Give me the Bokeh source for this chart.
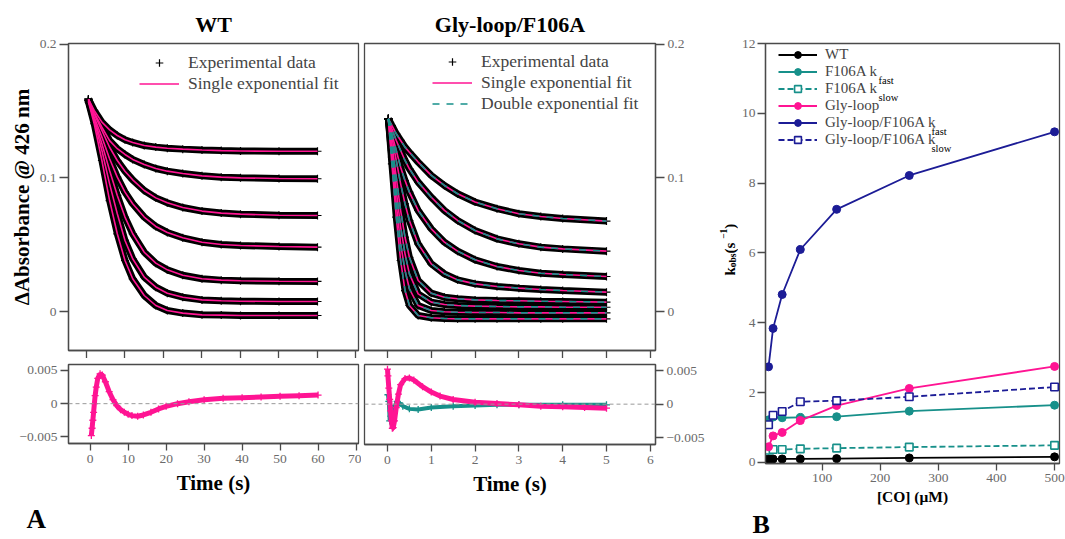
import math
from bokeh.plotting import figure
from bokeh.models import Range1d, FixedTicker, Label, Legend, LegendItem, Span, Title
from bokeh.layouts import row, column
from bokeh.embed import file_html
from bokeh.resources import INLINE

# ---------------- data ----------------
# Panel A, WT traces (time in s, dAbs)
t_wt = [0.5, 2, 4, 6, 8, 10, 12, 15, 18, 21, 25, 30, 35, 40, 50, 60]
wt_1 = [0.159, 0.1506, 0.1418, 0.136, 0.1318, 0.1286, 0.1266, 0.1243, 0.1231, 0.1223, 0.1216, 0.121, 0.1205, 0.1202, 0.120, 0.120]
wt_2 = [0.159, 0.149, 0.138, 0.128, 0.1219, 0.1176, 0.1139, 0.1101, 0.1071, 0.1051, 0.1034, 0.1016, 0.1006, 0.1001, 0.0996, 0.0994]
wt_3 = [0.159, 0.148, 0.1356, 0.123, 0.1131, 0.1051, 0.0986, 0.0906, 0.0851, 0.0814, 0.0779, 0.0752, 0.0737, 0.0729, 0.0721, 0.0719]
wt_4 = [0.158, 0.1456, 0.1306, 0.1144, 0.1006, 0.0894, 0.0807, 0.0707, 0.0637, 0.0592, 0.0552, 0.0519, 0.0502, 0.0494, 0.0487, 0.0482]
wt_5 = [0.158, 0.1443, 0.1256, 0.1056, 0.0869, 0.0707, 0.0582, 0.0444, 0.0362, 0.0312, 0.0272, 0.0245, 0.0235, 0.023, 0.0227, 0.0225]
wt_6 = [0.158, 0.1431, 0.1206, 0.0956, 0.0732, 0.0532, 0.0395, 0.0257, 0.0182, 0.0137, 0.0107, 0.0087, 0.008, 0.0077, 0.0075, 0.0075]
wt_7 = [0.157, 0.1406, 0.1131, 0.0831, 0.0582, 0.0382, 0.0245, 0.012, 0.0045, 0.0007, -0.0012, -0.0025, -0.0027, -0.003, -0.003, -0.003]
wt_traces = [wt_1, wt_2, wt_3, wt_4, wt_5, wt_6, wt_7]

# Panel A, Gly-loop/F106A traces
t_gf = [0.02, 0.1, 0.2, 0.3, 0.4, 0.5, 0.7, 1.0, 1.3, 1.6, 2.0, 2.5, 3.0, 3.5, 4.0, 5.0]
gf_1 = [0.1443, 0.1393, 0.1331, 0.1281, 0.1231, 0.1193, 0.1119, 0.1019, 0.0944, 0.0882, 0.082, 0.077, 0.0732, 0.0712, 0.0697, 0.0677]
gf_2 = [0.1443, 0.1368, 0.1281, 0.1206, 0.1131, 0.1069, 0.0969, 0.0856, 0.0757, 0.0682, 0.0607, 0.0544, 0.0507, 0.0482, 0.0469, 0.0452]
gf_3 = [0.1443, 0.1331, 0.1206, 0.1081, 0.0981, 0.0894, 0.0757, 0.0619, 0.0519, 0.0452, 0.0387, 0.0337, 0.0307, 0.0287, 0.0277, 0.0262]
gf_4 = [0.1443, 0.1306, 0.1131, 0.0956, 0.0806, 0.0681, 0.0506, 0.0357, 0.0282, 0.0237, 0.0207, 0.0187, 0.0175, 0.0165, 0.0157, 0.0145]
gf_5 = [0.1443, 0.1256, 0.1006, 0.0756, 0.0556, 0.0406, 0.0232, 0.0137, 0.0107, 0.0095, 0.0087, 0.0082, 0.008, 0.0077, 0.0075, 0.007]
gf_6 = [0.1443, 0.1206, 0.0906, 0.0632, 0.0432, 0.0282, 0.0132, 0.007, 0.0052, 0.0045, 0.004, 0.0037, 0.0035, 0.0035, 0.0032, 0.0032]
gf_7 = [0.1443, 0.1156, 0.0807, 0.0507, 0.0307, 0.017, 0.0045, 0.0007, -0.0002, -0.0005, -0.0007, -0.0007, -0.001, -0.001, -0.001, -0.001]
gf_8 = [0.1443, 0.1106, 0.0707, 0.0382, 0.0157, 0.0045, -0.003, -0.0047, -0.0052, -0.0055, -0.0055, -0.0055, -0.0055, -0.0055, -0.0055, -0.0055]
gf_traces = [gf_1, gf_2, gf_3, gf_4, gf_5, gf_6, gf_7, gf_8]

# Residuals
t_res_wt = [0.3, 0.5, 0.7, 0.9, 1.1, 1.3, 1.6, 2.0, 2.6, 3.2, 4.0, 5, 6, 7, 8, 9, 10, 11, 12.5, 14, 16, 18, 20, 23, 26, 30, 35, 40, 45, 50, 55, 60]
res_wt = [-0.0048, -0.0037, -0.0025, -0.0013, 0.0, 0.0012, 0.0025, 0.0038, 0.0045, 0.0043, 0.0033, 0.0018, 0.0006, -0.0003, -0.0009, -0.0013, -0.0016, -0.0018, -0.0019, -0.0017, -0.0013, -0.0008, -0.0004, 0.0, 0.0003, 0.0006, 0.0008, 0.0009, 0.001, 0.0011, 0.0012, 0.0013]
t_res_gf_single = [0.0, 0.01, 0.03, 0.05, 0.07, 0.09, 0.11, 0.13, 0.16, 0.2, 0.25, 0.3, 0.4, 0.5, 0.6, 0.8, 1.0, 1.2, 1.5, 2.0, 2.5, 3.0, 3.5, 4.0, 4.5, 5.0]
res_gf_single = [0.0052, 0.0042, 0.0024, 0.0007, -0.001, -0.0025, -0.0036, -0.0035, -0.0025, -0.0005, 0.0015, 0.0029, 0.0038, 0.0039, 0.0036, 0.0026, 0.0018, 0.0012, 0.0007, 0.0003, 0.0001, -0.0001, -0.0003, -0.0004, -0.0005, -0.0006]
t_res_gf_double = [0.01, 0.03, 0.05, 0.08, 0.1, 0.13, 0.17, 0.22, 0.27, 0.35, 0.5, 0.7, 1.0, 1.5, 2.0, 2.5, 3.0, 4.0, 5.0]
res_gf_double = [0.0014, 0.0004, -0.0025, -0.0018, -0.0013, -0.0008, -0.0002, 0.0004, 0.0002, -0.0003, -0.0007, -0.0008, -0.0005, -0.0003, -0.0002, -0.0001, -0.0001, -0.0001, -0.0001]

# Panel B
co = [7.8, 15.6, 31.25, 62.5, 125, 250, 500]
k_wt = [0.1, 0.1, 0.1, 0.1, 0.11, 0.13, 0.16]
k_f106a_fast = [1.22, 1.3, 1.28, 1.29, 1.31, 1.47, 1.64]
k_f106a_slow = [0.35, 0.37, 0.37, 0.39, 0.41, 0.44, 0.49]
k_gly = [0.45, 0.76, 0.86, 1.2, 1.63, 2.12, 2.75]
k_gf_fast = [2.74, 3.84, 4.81, 6.1, 7.25, 8.22, 9.47]
k_gf_slow = [1.08, 1.35, 1.46, 1.74, 1.77, 1.88, 2.16]

# ---------------- style ----------------
SERIF = "Liberation Serif"
AX = "#4a4a4a"
TL = "#6a6a6a"
PINK = "#ff1493"
TEAL = "#17908a"
NAVY = "#1c1c96"


def base_fig(w, h, xr, yr, bl, br, bt, bb, yloc="left"):
    p = figure(width=w, height=h, x_range=Range1d(*xr), y_range=Range1d(*yr),
               output_backend="svg", toolbar_location=None, y_axis_location=yloc,
               min_border_left=bl, min_border_right=br, min_border_top=bt, min_border_bottom=bb)
    p.grid.visible = False
    p.outline_line_color = AX
    p.outline_line_width = 1.3
    return p


def style_axis(ax, ticks, out, standoff, fs="13.5px", overrides=None):
    ax.ticker = FixedTicker(ticks=ticks)
    ax.axis_line_color = AX
    ax.axis_line_width = 1.3
    ax.major_tick_line_color = AX
    ax.major_tick_line_width = 1.3
    ax.major_tick_out = out
    ax.major_tick_in = 0
    ax.minor_tick_line_color = None
    ax.major_label_text_font = SERIF
    ax.major_label_text_font_size = fs
    ax.major_label_text_color = TL
    ax.major_label_standoff = standoff
    if overrides:
        ax.major_label_overrides = overrides


def axis_title(ax, text, size, standoff):
    ax.axis_label = text
    ax.axis_label_text_font = SERIF
    ax.axis_label_text_font_style = "bold"
    ax.axis_label_text_font_size = size
    ax.axis_label_text_color = "black"
    ax.axis_label_standoff = standoff


def text_label(p, x, y, text, size, bold=False, align="left", angle=0.0, color="black"):
    p.add_layout(Label(x=x, y=y, x_units="screen", y_units="screen", text=text,
                       text_font=SERIF, text_font_size=size,
                       text_font_style="bold" if bold else "normal",
                       text_align=align, text_baseline="alphabetic", angle=angle,
                       text_color=color))


def set_title(p, text, size, offset, standoff):
    p.title.text = text
    p.title.align = "center"
    p.title.offset = offset
    p.title.standoff = standoff
    p.title.text_font = SERIF
    p.title.text_font_size = size
    p.title.text_font_style = "bold"
    p.title.text_color = "black"


def panel_letter(p, text, offset, standoff, size):
    p.add_layout(Title(text=text, align="left", offset=offset, standoff=standoff,
                       text_font=SERIF, text_font_size=size, text_font_style="bold",
                       text_color="black"), "below")


y_over_top = {0: "0", 0.1: "0.1", 0.2: "0.2"}
y_over_res = {0.005: "0.005", 0: "0", -0.005: "\u22120.005"}
TOP_YR = (-0.0292, 0.2007)
RES_YR = (-0.0060, 0.0059)
wt_ticks = [0, 10, 20, 30, 40, 50, 60, 70]
gf_ticks = [0, 1, 2, 3, 4, 5, 6]

# ---------------- WT top ----------------
p1 = base_fig(361, 358, (-4.675, 70.65), TOP_YR, 68, 3, 43, 8)
set_title(p1, "WT", "22px", 4, 13)
style_axis(p1.xaxis[0], wt_ticks, 8, 0, fs="1px", overrides={t: "" for t in wt_ticks})
style_axis(p1.yaxis[0], [0, 0.1, 0.2], 9, 3, overrides=y_over_top)
axis_title(p1.yaxis[0], "\u0394Absorbance @ 426 nm", "21px", 3)
cross_r = None
for tr in wt_traces:
    p1.line(t_wt, tr, line_color="black", line_width=7)
    cross_r = p1.scatter(t_wt, tr, marker="cross", size=8, line_color="black", line_width=1.2)
fit_r = None
for tr in wt_traces:
    fit_r = p1.line(t_wt, tr, line_color=PINK, line_width=1.6)
leg1 = Legend(items=[LegendItem(label="Experimental data", renderers=[cross_r]),
                     LegendItem(label="Single exponential fit", renderers=[fit_r])],
              location=(71, 256), orientation="vertical", padding=0, spacing=0, margin=0,
              glyph_width=40, glyph_height=19, label_height=19, label_standoff=9,
              label_text_font=SERIF, label_text_font_size="17.5px",
              border_line_color=None, background_fill_alpha=0)
p1.add_layout(leg1)

# ---------------- WT residual ----------------
p2 = base_fig(361, 180, (-5.71, 70.65), RES_YR, 64, 3, 6, 94)
style_axis(p2.xaxis[0], wt_ticks, 7, 4)
style_axis(p2.yaxis[0], [-0.005, 0, 0.005], 8, 3, overrides=y_over_res)
axis_title(p2.xaxis[0], "Time (s)", "21px", 5)
p2.add_layout(Span(location=0, dimension="width", line_color="#9a9a9a", line_dash="4 3", line_width=1))
p2.line(t_res_wt, res_wt, line_color=PINK, line_width=5)
p2.scatter(t_res_wt, res_wt, marker="cross", size=7, line_color=PINK, line_width=1.3)
panel_letter(p2, "A", -42, 9, "27px")

# ---------------- Gly-loop/F106A top ----------------
p3 = base_fig(347, 358, (-0.525, 6.119), TOP_YR, 3, 53, 43, 8, yloc="right")
set_title(p3, "Gly-loop/F106A", "22px", -3.5, 13)
style_axis(p3.xaxis[0], gf_ticks, 8, 0, fs="1px", overrides={t: "" for t in gf_ticks})
style_axis(p3.yaxis[0], [0, 0.1, 0.2], 9, 3, overrides=y_over_top)
cross3 = None
for tr in gf_traces:
    p3.line(t_gf, tr, line_color="black", line_width=7)
    cross3 = p3.scatter(t_gf, tr, marker="cross", size=8, line_color="black", line_width=1.2)
single3 = None
double3 = None
for tr in gf_traces:
    single3 = p3.line(t_gf, tr, line_color=PINK, line_width=1.6)
for tr in gf_traces:
    double3 = p3.line(t_gf, tr, line_color=TEAL, line_width=1.6, line_dash="7 7")
leg3 = Legend(items=[LegendItem(label="Experimental data", renderers=[cross3]),
                     LegendItem(label="Single exponential fit", renderers=[single3]),
                     LegendItem(label="Double exponential fit", renderers=[double3])],
              location=(68, 236.5), orientation="vertical", padding=0, spacing=0, margin=0,
              glyph_width=40, glyph_height=19, label_height=19, label_standoff=9,
              label_text_font=SERIF, label_text_font_size="17.5px",
              border_line_color=None, background_fill_alpha=0)
p3.add_layout(leg3)

# ---------------- Gly-loop/F106A residual ----------------
p4 = base_fig(347, 180, (-0.525, 6.119), RES_YR, 3, 53, 6, 94, yloc="right")
style_axis(p4.xaxis[0], gf_ticks, 7, 4)
style_axis(p4.yaxis[0], [-0.005, 0, 0.005], 8, 3, overrides=y_over_res)
axis_title(p4.xaxis[0], "Time (s)", "21px", 5)
p4.add_layout(Span(location=0, dimension="width", line_color="#9a9a9a", line_dash="4 3", line_width=1))
p4.line(t_res_gf_double, res_gf_double, line_color=TEAL, line_width=4)
p4.scatter(t_res_gf_double, res_gf_double, marker="cross", size=7, line_color=TEAL, line_width=1.3)
p4.line(t_res_gf_single, res_gf_single, line_color=PINK, line_width=5)
p4.scatter(t_res_gf_single, res_gf_single, marker="cross", size=7, line_color=PINK, line_width=1.3)

# ---------------- spacer with k_obs axis title (same top/bottom borders as panel B) ----------------
pk = figure(width=30, height=538, x_range=Range1d(0, 1), y_range=Range1d(0, 1),
            output_backend="svg", toolbar_location=None, x_axis_type=None, y_axis_type=None,
            min_border_left=0, min_border_right=0, min_border_top=43, min_border_bottom=73)
pk.grid.visible = False
pk.outline_line_color = None
ang = math.pi / 2
# each piece is anchored at its end (right-aligned), text reads upwards
text_label(pk, 21, 196.3, "k", "15px", bold=True, align="right", angle=ang)
text_label(pk, 24, 210, "obs", "9.5px", bold=True, align="right", angle=ang)
text_label(pk, 21, 224.6, " (s", "15px", bold=True, align="right", angle=ang)
text_label(pk, 15, 234.8, "\u22121", "9.5px", bold=True, align="right", angle=ang)
text_label(pk, 21, 239.8, ")", "15px", bold=True, align="right", angle=ang)

# ---------------- Panel B ----------------
pb = base_fig(327, 538, (2.56, 508.5), (-0.03, 12.0), 25, 6, 43, 73)
style_axis(pb.xaxis[0], [100, 200, 300, 400, 500], 7, 3)
style_axis(pb.yaxis[0], [0, 2, 4, 6, 8, 10, 12], 8, 2)
axis_title(pb.xaxis[0], "[CO] (\u03bcM)", "15.5px", 3)

series = [
    ("WT", k_wt, "black", "solid", "circle"),
    ("F106A k", k_f106a_fast, TEAL, "solid", "circle"),
    ("F106A k", k_f106a_slow, TEAL, "6 3", "square"),
    ("Gly-loop", k_gly, PINK, "solid", "circle"),
    ("Gly-loop/F106A k", k_gf_fast, NAVY, "solid", "circle"),
    ("Gly-loop/F106A k", k_gf_slow, NAVY, "6 3", "square"),
]
items = []
for name, ys, col, dash, mk in series:
    lr = pb.line(co, ys, line_color=col, line_width=1.8, line_dash=dash)
    if mk == "circle":
        sr = pb.scatter(co, ys, marker="circle", size=8, fill_color=col, line_color=col)
    else:
        sr = pb.scatter(co, ys, marker="square", size=7.5, fill_color="white", line_color=col, line_width=1.6)
    items.append(LegendItem(label=name, renderers=[lr, sr]))
legb = Legend(items=items, location=(13, 315.5), orientation="vertical", padding=0, spacing=0, margin=0,
              glyph_width=39, glyph_height=17, label_height=17, label_standoff=8,
              label_text_font=SERIF, label_text_font_size="15px",
              border_line_color=None, background_fill_alpha=0)
pb.add_layout(legb)
# subscripts in the legend
text_label(pb, 113, 383, "fast", "10.5px")
text_label(pb, 113, 366, "slow", "10.5px")
text_label(pb, 166, 332, "fast", "10.5px")
text_label(pb, 166, 315, "slow", "10.5px")
panel_letter(pb, "B", -13, 0, "26px")

layout = row(column(p1, p2, spacing=0), column(p3, p4, spacing=0), pk, pb, spacing=0)
open("out.html", "w").write(file_html(layout, INLINE))
